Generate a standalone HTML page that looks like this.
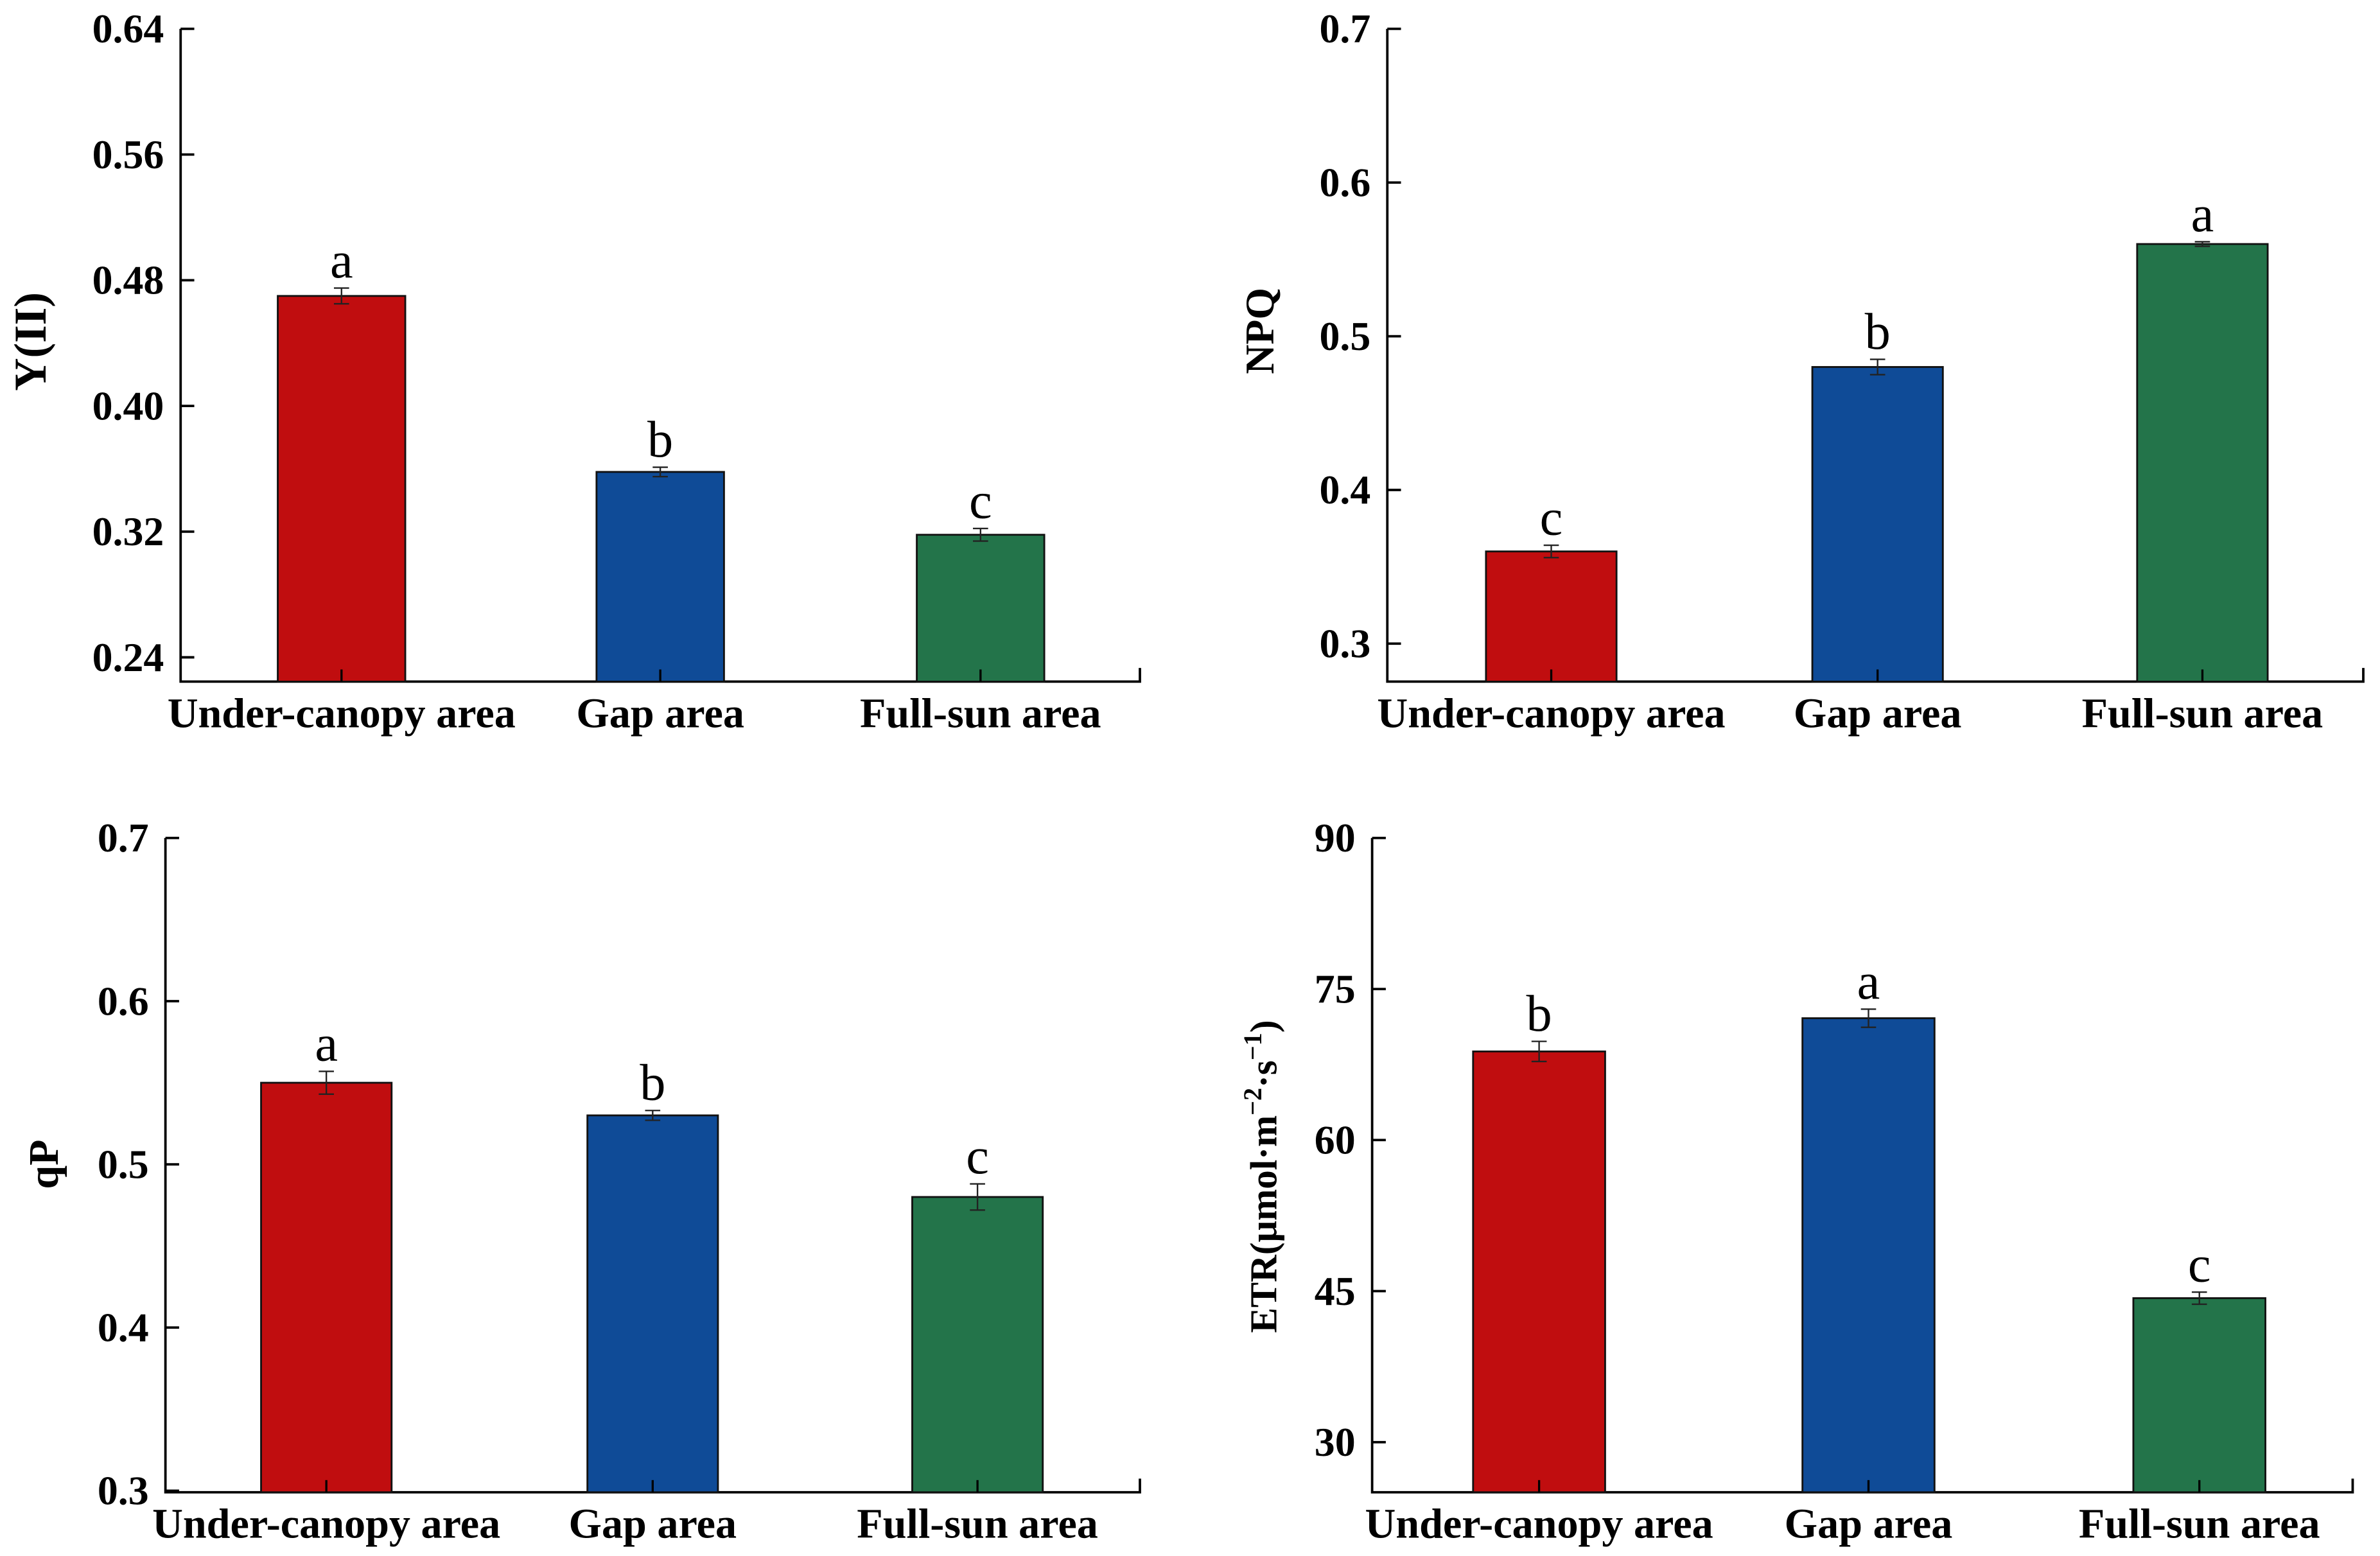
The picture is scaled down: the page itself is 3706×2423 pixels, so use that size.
<!DOCTYPE html>
<html><head><meta charset="utf-8">
<style>
html,body{margin:0;padding:0;background:#fff;}
svg{display:block;}
text{font-family:"Liberation Serif","Times New Roman",serif;}
</style></head>
<body>
<svg id="fig" width="3706" height="2423" viewBox="0 0 1568 1025" preserveAspectRatio="none" xmlns="http://www.w3.org/2000/svg"></svg>
<script>
const categories = ["Under-canopy area", "Gap area", "Full-sun area"];
const colors = ["#c00d0f", "#0f4b97", "#23744a"];
const yiiValues = [0.470, 0.358, 0.318];
const yiiErrors = [0.005, 0.003, 0.004];
const yiiLetters = ["a", "b", "c"];
const yiiTicks = ["0.24", "0.32", "0.40", "0.48", "0.56", "0.64"];
const npqValues = [0.360, 0.480, 0.560];
const npqErrors = [0.004, 0.005, 0.0015];
const npqLetters = ["c", "b", "a"];
const npqTicks = ["0.3", "0.4", "0.5", "0.6", "0.7"];
const qpValues = [0.550, 0.530, 0.480];
const qpErrors = [0.007, 0.003, 0.008];
const qpLetters = ["a", "b", "c"];
const qpTicks = ["0.3", "0.4", "0.5", "0.6", "0.7"];
const etrValues = [68.8, 72.1, 44.3];
const etrErrors = [1.0, 0.9, 0.6];
const etrLetters = ["b", "a", "c"];
const etrTicks = ["30", "45", "60", "75", "90"];

const NS = "http://www.w3.org/2000/svg";
const svg = document.getElementById("fig");
function mk(tag, attrs, parent, txt){
  const e = document.createElementNS(NS, tag);
  for (const k in attrs) e.setAttribute(k, attrs[k]);
  if (txt !== undefined) e.textContent = txt;
  (parent || svg).appendChild(e);
  return e;
}

function panel(cfg){
  const g = mk("g", {});
  
  
  const tv = cfg.ticks.map(Number);
  const t0 = tv[0], t1 = tv[tv.length-1];
  const y = v => cfg.yTop + (t1 - v) / (t1 - t0) * (cfg.yLastTick - cfg.yTop);
  const x = i => cfg.centers[i];
  const ax = mk("path", {d:`M${cfg.ax},${cfg.yTop} V${cfg.yBottom} H${cfg.xRight} V${cfg.yBottom-9}`, fill:"none", stroke:"#000", "stroke-width":1.6}, g);
  
  
  cfg.ticks.forEach((t) => {
    const yy = y(Number(t));
    const tk = mk("line", {x1:cfg.ax, x2:cfg.ax+9, y1:yy, y2:yy, stroke:"#000", "stroke-width":1.6}, g);
    
    
    const tl = mk("text", {x:cfg.ax-11, y:yy+9, "text-anchor":"end", "font-size":27, "font-weight":"bold"}, g, t);
    
    
  });
  cfg.values.forEach((v, i) => {
    const cx = x(i), w = cfg.barW;
    const b = mk("rect", {x:cx-w/2, y:y(v), width:w, height:cfg.yBottom - y(v), fill:colors[i], stroke:"#111", "stroke-width":1.2}, g);
    
    
    const xt = mk("line", {x1:cx, x2:cx, y1:cfg.yBottom, y2:cfg.yBottom-8, stroke:"#000", "stroke-width":1.4}, g);
    
    
    const e = cfg.errors[i];
    const eb = mk("path", {d:`M${cx-5},${y(v+e)} H${cx+5} M${cx},${y(v+e)} V${y(v-e)} M${cx-5},${y(v-e)} H${cx+5}`, stroke:"#222", "stroke-width":1, fill:"none"}, g);
    
    
    const lt = mk("text", {x:cx, y:y(v+e)-7, "text-anchor":"middle", "font-size":34}, g, cfg.letters[i]);
    
    
    const xl = mk("text", {x:cx, y:cfg.yBottom+30, "text-anchor":"middle", "font-size":28, "font-weight":"bold"}, g, categories[i]);
    
    
  });
  const yt = mk("text", {x:0, y:0, "text-anchor":"middle", "font-size":cfg.titleSize || 28, "font-weight":"bold", transform:`translate(${cfg.titleX},${cfg.titleY}) rotate(-90)`}, g);
  
  
  if (cfg.titleHTML) {
    mk("tspan", {}, yt, "ETR(μmol·m");
    mk("tspan", {dy:-10, "font-size":17}, yt, "−2");
    mk("tspan", {dy:10}, yt, "·s");
    mk("tspan", {dy:-10, "font-size":17}, yt, "−1");
    mk("tspan", {dy:10}, yt, ")");
  } else {
    yt.textContent = cfg.title;
  }
}

panel({name:"panel-yii", ticks:yiiTicks, values:yiiValues, errors:yiiErrors, letters:yiiLetters,
  ax:119, yTop:19, yLastTick:433, yBottom:449, xRight:751, centers:[225,435,646], barW:84,
  title:"Y(II)", titleX:30, titleY:225, titleSize:30});
panel({name:"panel-npq", ticks:npqTicks, values:npqValues, errors:npqErrors, letters:npqLetters,
  ax:914, yTop:19, yLastTick:424, yBottom:449, xRight:1557, centers:[1022,1237,1451], barW:86,
  title:"NPQ", titleX:839, titleY:218, titleSize:27});
panel({name:"panel-qp", ticks:qpTicks, values:qpValues, errors:qpErrors, letters:qpLetters,
  ax:109, yTop:552, yLastTick:982, yBottom:983, xRight:751, centers:[215,430,644], barW:86,
  title:"qP", titleX:38, titleY:767, titleSize:28});
panel({name:"panel-etr", ticks:etrTicks, values:etrValues, errors:etrErrors, letters:etrLetters,
  ax:904, yTop:552, yLastTick:950, yBottom:983, xRight:1550, centers:[1014,1231,1449], barW:87,
  titleHTML:true, titleX:841, titleY:775, titleSize:25});
</script>
</body></html>
